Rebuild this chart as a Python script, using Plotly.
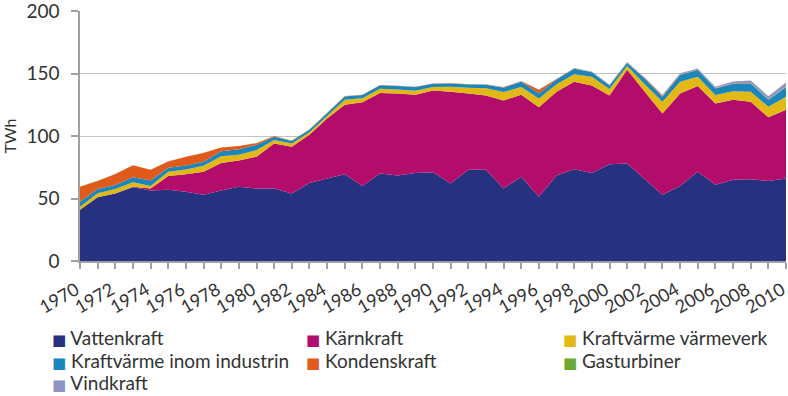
import plotly.graph_objects as go

years = list(range(1970, 2011))

vattenkraft = [41, 51, 54, 59, 56.5, 57, 55.5, 53, 56.5, 59.5, 58, 58, 54, 62.5, 66, 69.5, 60, 70, 68.5, 70.5,
               71, 62, 73, 73, 58, 67.5, 51.5, 68.5, 73.5, 70.5, 77.5, 78, 65.5, 53, 60, 71.5, 61, 65, 65.5, 64, 66]
karnkraft = [0, 0, 0, 0.5, 1.5, 11, 14, 18.5, 22, 21, 25.5, 36, 37.5, 38.5, 48, 55.5, 67, 64.5, 65.5, 62.5,
             65.5, 73.5, 61, 59.5, 70.5, 65.5, 71.5, 67, 70, 70, 55, 75, 70, 65, 74, 68.5, 65, 64, 62, 51, 55]
kv_varmeverk = [2.5, 3.3, 3.6, 3.5, 2, 3.5, 3.7, 4.8, 5.3, 4.5, 5.3, 2.8, 2.5, 2, 2, 4, 3.3, 3.3, 3.3, 3.2,
                2.7, 4, 4.7, 5.7, 6.7, 6.2, 7, 6, 6, 7, 5.2, 3, 6, 9.5, 9.5, 7.5, 6.8, 6.8, 8, 8.5, 10.5]
kv_industri = [4, 3.3, 3.2, 4, 4.5, 3.2, 3.2, 3.2, 4, 4.5, 4, 2.7, 2, 2, 2.3, 2.7, 2.5, 2.8, 2.7, 3,
               2.6, 2.5, 2.6, 2.8, 3.5, 4.3, 4, 3.7, 4.4, 3.5, 2.8, 2.5, 4.3, 4, 5.3, 5.3, 5.2, 6, 6.5, 5.5, 7.5]
kondenskraft = [12, 6.5, 8.8, 9.6, 8.5, 5, 7, 7, 3, 2.5, 1.5, 0.5, 0.3, 0.3, 0.2, 0.2, 0.2, 0.2, 0.2, 0.2,
                0.2, 0.2, 0.2, 0.2, 0.3, 0.3, 3, 0.3, 0.2, 0.2, 0.2, 0.2, 0.3, 0.8, 0.3, 0.2, 0.3, 0.3, 0.3, 0.3, 0.3]
gasturbiner = [0.1, 0.1, 0.1, 0.1, 0.1, 0.1, 0.1, 0.1, 0.1, 0.1, 0.1, 0.1, 0.1, 0.1, 0.1, 0.1, 0.1, 0.1, 0.1, 0.1,
               0.1, 0.1, 0.1, 0.1, 0.1, 0.1, 0.1, 0.1, 0.1, 0.1, 0.1, 0.1, 0.1, 0.1, 0.1, 0.1, 0.1, 0.1, 0.1, 0.1, 0.1]
vindkraft = [0, 0, 0, 0, 0, 0, 0, 0, 0, 0, 0, 0, 0, 0, 0, 0, 0, 0, 0, 0,
             0, 0, 0, 0.1, 0.1, 0.1, 0.1, 0.2, 0.3, 0.4, 0.5, 0.5, 0.6, 0.6, 0.9, 0.9, 1.0, 1.4, 2.0, 2.5, 3.5]

series_names = ["Vattenkraft", "Kärnkraft", "Kraftvärme värmeverk", "Kraftvärme inom industrin",
                "Kondenskraft", "Gasturbiner", "Vindkraft"]
series_values = [vattenkraft, karnkraft, kv_varmeverk, kv_industri, kondenskraft, gasturbiner, vindkraft]
series_colors = ["#26317f", "#b30d6c", "#e1b814", "#1a86bb", "#e05b1b", "#6aaa30", "#8b96c4"]

tick_years = list(range(1970, 2011, 2))
tick_labels = [str(y) for y in tick_years]

FONT = "Lato"
TXT = "#333333"

fig = go.Figure()
for name, vals, col in zip(series_names, series_values, series_colors):
    fig.add_trace(go.Scatter(
        x=years, y=vals, name=name, stackgroup="one", mode="none",
        fillcolor=col, line=dict(width=0), showlegend=False,
    ))

# legend: one legend box per entry, laid out in 3 columns x 3 rows
col_x = [12, 266, 523]          # px of legend box left
row_y = [338, 361, 383]         # px of row centre
plot_l, plot_w, plot_t, plot_h = 80, 706, 11, 250
layout_legends = {}
for i, (name, col) in enumerate(zip(series_names, series_colors)):
    r, c = divmod(i, 3)
    key = "legend" if i == 0 else f"legend{i + 1}"
    fig.add_trace(go.Scatter(
        x=[None], y=[None], mode="markers",
        marker=dict(size=0, opacity=0, color="rgba(0,0,0,0)", line=dict(width=0)),
        name=f'<span style="font-family:DejaVu Sans;font-size:15px;color:{col}">■</span> {name}',
        legend=key, showlegend=True, hoverinfo="skip",
    ))
    layout_legends[key] = dict(
        x=(col_x[c] - plot_l) / plot_w, xanchor="left",
        y=(plot_t + plot_h - row_y[r]) / plot_h, yanchor="middle",
        font=dict(family=FONT, size=19, color=TXT), bgcolor="rgba(0,0,0,0)",
        borderwidth=0, itemwidth=30,
    )

fig.update_layout(
    width=788, height=396,
    margin=dict(l=plot_l, r=788 - plot_l - plot_w, t=plot_t, b=396 - plot_t - plot_h, autoexpand=False),
    plot_bgcolor="white", paper_bgcolor="white",
    font=dict(family=FONT, size=16, color=TXT),
    showlegend=True,
    xaxis=dict(
        range=[1970, 2010], tickmode="array", tickvals=tick_years, ticktext=tick_labels,
        tickangle=-30, ticks="outside", ticklen=6, tickcolor="#a0a0a0", tickwidth=1.5,
        showline=True, linecolor="#a0a0a0", linewidth=1.5, showgrid=False, zeroline=False,
        minor=dict(dtick=1, tick0=1970, ticks="outside", ticklen=6, tickcolor="#a0a0a0", tickwidth=1.5,
                   showgrid=False),
        tickfont=dict(family=FONT, size=18, color=TXT), ticklabeloverflow="allow", automargin=False,
        ticklabelstandoff=4, ticklabelshift=-4,
    ),
    yaxis=dict(
        range=[0, 200], dtick=50, ticks="outside", ticklen=7, tickcolor="#a0a0a0", tickwidth=1.5,
        showline=True, linecolor="#a0a0a0", linewidth=1.5,
        showgrid=True, gridcolor="#c4c4c4", gridwidth=1, zeroline=False,
        tickfont=dict(family=FONT, size=19, color=TXT), ticklabeloverflow="allow", automargin=False,
        ticklabelstandoff=8,
        title=dict(text="TWh", font=dict(family=FONT, size=16, color=TXT), standoff=12),
    ),
    **layout_legends,
)

fig.write_html("out.html", config={"displayModeBar": False},
               post_script="document.body.style.margin='0';document.body.style.padding='0';")
